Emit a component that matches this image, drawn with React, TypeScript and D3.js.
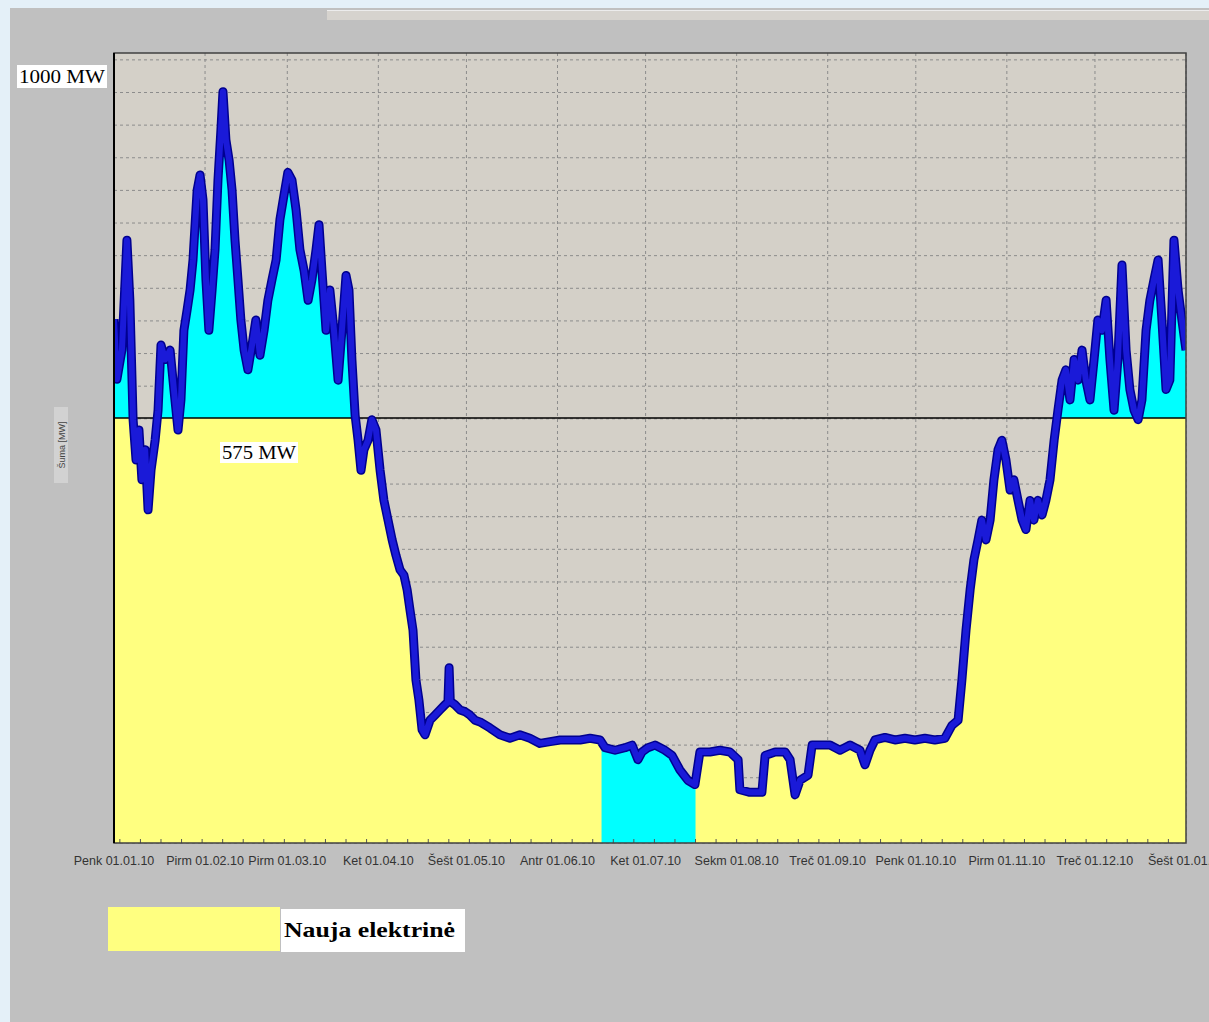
import React from 'react';
import * as d3 from 'd3';

// dienos nuo 2010-01-01 ir apkrova MW (nuskaityta iš grafiko)
const dayOffsets = [
  0, 1, 2.7, 4.4, 5.4, 6.5, 7.5, 8.5, 9.5, 10.6, 11.6, 12.6, 14, 15, 16, 17.4, 19.1, 20.4, 21.8, 22.8,
  23.8, 24.9, 25.9, 26.9, 28.3, 29.3, 30.3, 31.3, 32.3, 33.4, 34.4, 35.4, 36.4, 37.1, 38.1, 39.2, 40.2,
  41.2, 42.2, 43.2, 44.3, 45.6, 47, 48.3, 49.7, 51.1, 52.4, 53.8, 55.2, 56.5, 57.9, 59.2, 60.6, 62,
  63.3, 64.7, 66.1, 67.4, 68.8, 69.8, 70.8, 72.2, 73.5, 74.9, 76.3, 77.6, 79, 80, 81, 82.1, 83.1, 84.1,
  85.1, 86.5, 87.8, 89.2, 90.6, 91.9, 93.3, 94.7, 96, 97.4, 98.7, 99.8, 100.8, 101.8, 102.8, 103.8,
  104.9, 105.9, 107.6, 109.3, 111, 112.7, 113.7, 114.1, 114.5, 116.1, 117.8, 119.5, 121.2, 122.9, 124.6, 128, 131.4,
  134.8, 138.2, 141.6, 145, 148.5, 151.9, 155.3, 158.7, 162.1, 165.5, 167.2, 170.6, 174, 176.4, 178.4,
  179.8, 181.8, 184.2, 187.6, 190, 192.7, 195.4, 197.8, 199.5, 202.9, 206.3, 209.7, 212.5, 213.1, 216.5,
  220.6, 221.7, 225.1, 228.5, 230.2, 231.9, 233.6, 236.3, 237.7, 240.4, 243.8, 247.2, 250.6, 254, 255.7,
  257.4, 259.1, 262.5, 265.9, 269.3, 272.7, 276.1, 279.5, 282.9, 285.3, 287.4, 288.7, 290.1, 291.5,
  292.8, 294.2, 295.5, 296.9, 298.3, 299.6, 301, 302.3, 303.7, 305.1, 306.4, 307.8, 309.2, 310.5, 311.9,
  313.2, 314.6, 316, 317.3, 318.7, 320.1, 321.4, 322.8, 324.1, 325.5, 326.9, 328.2, 329.6, 330.9, 332.3,
  333.7, 335, 336.4, 337.8, 339.1, 340.5, 341.8, 343.2, 344.6, 345.9, 347.3, 348.7, 350, 351.4, 352.7,
  354.1, 355.5, 356.8, 358.2, 359.5, 360.9, 362.3, 363.6, 365,
];

const loadMW = [
  690, 620, 654, 782, 712, 573, 526, 561, 503, 538, 468, 514, 549, 584, 660, 643, 654, 608, 561, 596,
  677, 701, 724, 759, 840, 858, 829, 736, 677, 724, 771, 852, 910, 955, 899, 875, 840,
  782, 736, 689, 654, 631, 660, 689, 648, 677, 712, 736, 759, 806, 835, 861, 852, 817,
  771, 747, 712, 736, 771, 800, 747, 677, 724, 677, 619, 677, 741, 724, 643, 578, 549, 514,
  538, 549, 573, 561, 514, 479, 456, 433, 415, 398, 392, 375, 351, 328, 270, 247,
  212, 206, 223, 229, 235, 241, 244, 284, 245, 241, 235, 233, 229, 223, 221, 214, 206,
  202, 206, 202, 196, 198, 200, 200, 200, 202, 200, 191, 188, 191, 194, 177,
  186, 191, 194, 188, 182, 165, 153, 148, 186, 186, 188, 186, 177, 142, 139,
  139, 182, 186, 186, 177, 136, 153, 159, 194, 194, 194, 188, 194, 188, 171,
  188, 200, 203, 200, 202, 200, 202, 200, 202, 217, 223, 270, 328, 375,
  410, 433, 456, 433, 456, 503, 538, 549, 526, 491, 503, 479, 456, 445, 479,
  456, 479, 462, 479, 503, 549, 584, 619, 631, 596, 643, 619, 654, 619, 596,
  643, 689, 677, 712, 643, 584, 643, 753, 654, 608, 584, 573, 596, 677, 712,
  736, 759, 689, 608, 619, 782, 724, 689, 654,
];

const tickLabels = [
  'Penk 01.01.10', 'Pirm 01.02.10', 'Pirm 01.03.10', 'Ket 01.04.10', 'Šešt 01.05.10', 'Antr 01.06.10',
  'Ket 01.07.10', 'Sekm 01.08.10', 'Treč 01.09.10', 'Penk 01.10.10', 'Pirm 01.11.10', 'Treč 01.12.10',
  'Šešt 01.01.11',
];

const baseLevel = 575; // MW
const topLevel = 1000;
const cyanStart = new Date(2010, 5, 16);
const cyanEnd = new Date(2010, 6, 18);

const yearStart = new Date(2010, 0, 1);
const data = dayOffsets.map((d, i) => ({
  date: new Date(yearStart.getTime() + d * 86400000),
  v: loadMW[i],
}));

const left = 114, right = 1186, top = 53, bottom = 843;
const serif = "'Liberation Serif', 'Times New Roman', serif";
const sans = "Arial, 'Liberation Sans', sans-serif";

export default function App() {
  const x = d3.scaleTime().domain([yearStart, new Date(2011, 0, 1)]).range([left, right]);
  const y = d3.scaleLinear().domain([80, topLevel]).range([bottom, top]);

  const gridValues = d3.range(80, 1000, 38);
  const months = x.ticks(d3.timeMonth.every(1));
  const weeks = d3.timeWeek.range(yearStart, new Date(2011, 0, 1));

  const yellowArea = d3.area<any>()
    .x(d => x(d.date))
    .y0(bottom)
    .y1(d => y(Math.min(d.v, baseLevel)));
  const cyanArea = d3.area<any>()
    .x(d => x(d.date))
    .y0(y(baseLevel))
    .y1(d => y(Math.max(d.v, baseLevel)));
  const fullArea = d3.area<any>()
    .x(d => x(d.date))
    .y0(bottom)
    .y1(d => y(d.v));
  const line = d3.line<any>().x(d => x(d.date)).y(d => y(d.v));

  return (
    <svg width={1209} height={1022} style={{ position: 'absolute', left: 0, top: 0 }}>
      <defs>
        <clipPath id="cyanClip">
          <rect x={x(cyanStart)} y={top} width={x(cyanEnd) - x(cyanStart)} height={bottom - top} />
        </clipPath>
        <clipPath id="plotClip">
          <rect x={left} y={top - 10} width={right - left} height={bottom - top + 10} />
        </clipPath>
      </defs>
      <rect x={0} y={0} width={1209} height={1022} fill="#e4f0f8" />
      <rect x={10} y={8} width={1199} height={1014} fill="#c0c0c0" />
      <rect x={327} y={10} width={882} height={10} fill="#d6d3ce" />
      <line x1={327} x2={1209} y1={10.5} y2={10.5} stroke="#ececec" />

      <rect x={left} y={top} width={right - left} height={bottom - top} fill="#d4d0c8" />
      {gridValues.map(g => (
        <line key={g} x1={left} x2={right} y1={y(g)} y2={y(g)} stroke="#8c8c8c" strokeDasharray="3,3" />
      ))}
      {months.map((m, i) => (
        <line key={i} x1={x(m)} x2={x(m)} y1={top} y2={bottom} stroke="#8c8c8c" strokeDasharray="3,3" />
      ))}

      <g clipPath="url(#plotClip)">
        <path d={yellowArea(data) || ''} fill="#ffff80" />
        <path d={cyanArea(data) || ''} fill="#00ffff" />
        <path d={fullArea(data) || ''} fill="#00ffff" clipPath="url(#cyanClip)" />
        <line x1={left} x2={right} y1={y(baseLevel)} y2={y(baseLevel)} stroke="#000" strokeWidth={1.5} />
        <path d={line(data) || ''} fill="none" stroke="#000090" strokeWidth={9} strokeLinejoin="round" />
        <path d={line(data) || ''} fill="none" stroke="#1a1ad8" strokeWidth={6} strokeLinejoin="round" />
      </g>

      {weeks.map((w, i) => (
        <line key={i} x1={x(w)} x2={x(w)} y1={bottom - 4} y2={bottom} stroke="#555" />
      ))}
      <rect x={left} y={top} width={right - left} height={bottom - top} fill="none" stroke="#404040" strokeWidth={1.5} />
      <line x1={left} x2={left} y1={top} y2={bottom} stroke="#000" strokeWidth={2} />

      {months.map((m, i) => (
        <text key={i} x={x(m)} y={865} textAnchor="middle" fontFamily={sans} fontSize={12.5} fill="#333">{tickLabels[i]}</text>
      ))}

      <g transform="translate(62,445) rotate(-90)">
        <rect x={-38} y={-8} width={76} height={14} fill="#d2d2d2" />
        <text x={0} y={3} textAnchor="middle" fontFamily={sans} fontSize={9} fill="#444">Šuma [MW]</text>
      </g>

      <rect x={17} y={65} width={90} height={23} fill="#fff" />
      <text x={19} y={83} fontFamily={serif} fontSize={18} fill="#000" textLength={86} lengthAdjust="spacingAndGlyphs">{topLevel} MW</text>
      <rect x={220} y={442} width={78} height={21} fill="#fff" />
      <text x={222} y={459} fontFamily={serif} fontSize={18} fill="#000" textLength={74} lengthAdjust="spacingAndGlyphs">{baseLevel} MW</text>

      <rect x={108} y={907} width={172} height={44} fill="#ffff80" />
      <rect x={281} y={909} width={184} height={43} fill="#fff" />
      <text x={284} y={937} fontFamily={serif} fontSize={22} fontWeight="bold" fill="#000" textLength={171} lengthAdjust="spacingAndGlyphs">Nauja elektrinė</text>
    </svg>
  );
}
